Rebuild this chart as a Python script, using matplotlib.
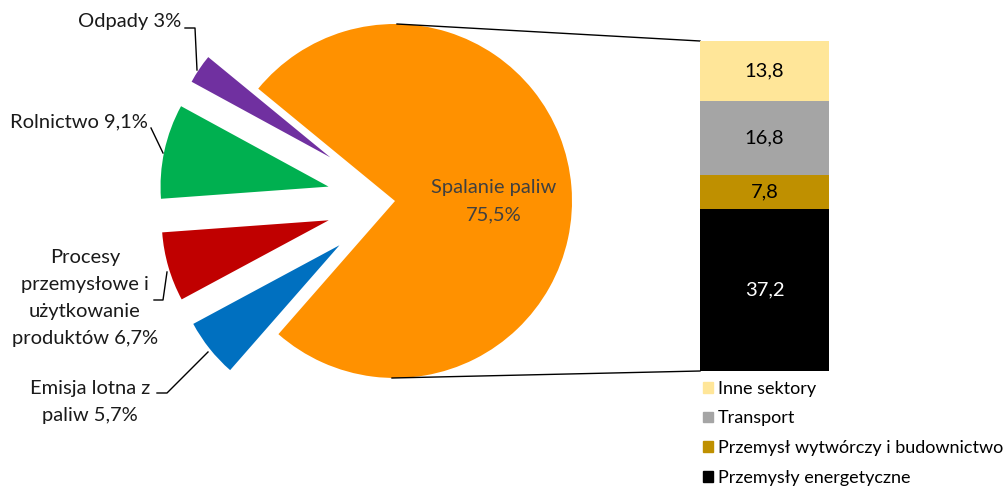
import matplotlib
matplotlib.use("Agg")
import matplotlib.pyplot as plt
import numpy as np
from matplotlib.patches import Patch

plt.rcParams['font.family'] = ['Lato', 'DejaVu Sans']

# ---- data ----
pie_labels = ["Spalanie paliw", "Odpady", "Rolnictwo",
              "Procesy przemysłowe i użytkowanie produktów", "Emisja lotna z paliw"]
pie_values = [75.5, 3.0, 9.1, 6.7, 5.7]
pie_texts = ["Spalanie paliw\n75,5%", "Odpady 3%", "Rolnictwo 9,1%",
             "Procesy\nprzemysłowe i\nużytkowanie\nproduktów 6,7%", "Emisja lotna z\npaliw 5,7%"]
pie_colors = ["#FF9100", "#7030A0", "#00B050", "#C00000", "#0070C0"]

bar_labels = ["Przemysły energetyczne", "Przemysł wytwórczy i budownictwo", "Transport", "Inne sektory"]
bar_values = [37.2, 7.8, 16.8, 13.8]
bar_texts = ["37,2", "7,8", "16,8", "13,8"]
bar_colors = ["#000000", "#BF9000", "#A5A5A5", "#FFE699"]
bar_text_colors = ["white", "black", "black", "black"]

W, H = 1008, 488
fig = plt.figure(figsize=(W / 100, H / 100), dpi=100)
ax = fig.add_axes([0, 0, 1, 1])

def Y(y):
    return H - y

cx, cy, R = 395, Y(201), 177
wedges, _ = ax.pie(pie_values, colors=pie_colors, startangle=-131.2, counterclock=True,
                   center=(cx, cy), radius=R, explode=[0, 78, 68, 69, 71],
                   wedgeprops=dict(linewidth=0))
for w, r in zip(wedges[1:], [158, 168, 167, 166]):
    w.set_radius(r)
ax.set_xlim(0, W)
ax.set_ylim(0, H)
ax.set_aspect('equal')
ax.axis('off')

tc = "#1a1a1a"
fs = 14.5
ls = 1.7
# main slice label
ax.text(494, Y(201), pie_texts[0], ha='center', va='center', fontsize=fs, color='#404040',
        linespacing=ls)
# small slice labels
ax.text(181, Y(22), pie_texts[1], ha='right', va='center', fontsize=fs, color=tc)
ax.plot([185, 195, 197], [Y(28), Y(28), Y(70)], color='black', lw=1)
ax.text(148, Y(122), pie_texts[2], ha='right', va='center', fontsize=fs, color=tc)
ax.plot([151, 163], [Y(128), Y(153)], color='black', lw=1)
ax.text(85, Y(298), pie_texts[3], ha='center', va='center', fontsize=fs, color=tc,
        linespacing=ls)
ax.plot([154, 163, 167], [Y(300), Y(300), Y(272)], color='black', lw=1)
ax.text(90, Y(402), pie_texts[4], ha='center', va='center', fontsize=fs, color=tc,
        linespacing=ls)
ax.plot([157, 167, 208], [Y(393), Y(393), Y(352)], color='black', lw=1)

# connector lines
bx0, by_top, by_bot = 700, 41, 371
ax.plot([cx + 2, bx0], [cy + R, Y(by_top)], color='black', lw=1)
ax.plot([cx - 3, bx0], [cy - R, Y(by_bot)], color='black', lw=1)

# bar
bax = fig.add_axes([bx0 / W, Y(by_bot) / H, 129 / W, (by_bot - by_top) / H])
bottom = 0
for v, c, t, tcol in zip(bar_values, bar_colors, bar_texts, bar_text_colors):
    bax.bar(0, v, bottom=bottom, width=1, color=c, linewidth=0)
    bax.text(0, bottom + v / 2, t, ha='center', va='center', fontsize=fs, color=tcol)
    bottom += v
bax.set_xlim(-0.5, 0.5)
bax.set_ylim(0, sum(bar_values))
bax.axis('off')

handles = [Patch(color=c) for c in bar_colors][::-1]
fig.legend(handles, bar_labels[::-1], loc='upper left',
           bbox_to_anchor=(699 / W, Y(377) / H), frameon=False, fontsize=13,
           handlelength=0.55, handleheight=0.55, handletextpad=0.3, labelspacing=0.76,
           borderaxespad=0, borderpad=0.2)

fig.savefig("out.png", dpi=100)
